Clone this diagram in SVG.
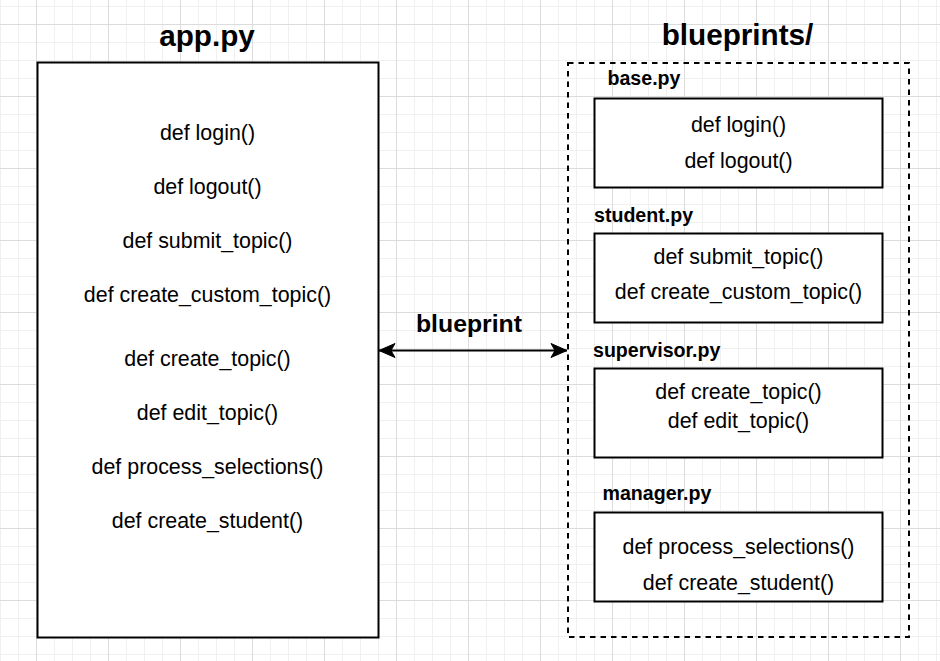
<svg xmlns="http://www.w3.org/2000/svg" width="940" height="661" viewBox="0 0 940 661">
  <defs>
    <pattern id="grid" patternUnits="userSpaceOnUse" x="36" y="24" width="72" height="72">
      <path d="M18.5 0V72M36.5 0V72M54.5 0V72M0 18.5H72M0 36.5H72M0 54.5H72" stroke="#f0f0f0" stroke-width="1" fill="none"/>
      <path d="M0.5 0V72M0 0.5H72" stroke="#dcdcdc" stroke-width="1" fill="none"/>
    </pattern>
    <marker id="arr" markerUnits="userSpaceOnUse" markerWidth="20" markerHeight="16" refX="17" refY="8" orient="auto-start-reverse" viewBox="0 0 20 16">
      <path d="M1 1 L17 8 L1 15 L5 8 Z" fill="#000" stroke="#000" stroke-width="1"/>
    </marker>
    <style>
      .title { font-family: "Liberation Sans", Arial, sans-serif; font-weight: bold; font-size: 29.7px; fill: #000; text-anchor: middle; }
      .fn { font-family: "Liberation Sans", Arial, sans-serif; font-size: 21.4px; fill: #000; text-anchor: middle; }
      .file { font-family: "Liberation Sans", Arial, sans-serif; font-weight: bold; font-size: 19.6px; fill: #000; }
      .lbl { font-family: "Liberation Sans", Arial, sans-serif; font-weight: bold; font-size: 24.8px; fill: #000; text-anchor: middle; }
      .box { fill: #fff; stroke: #000; stroke-width: 2; }
    </style>
  </defs>
  <rect x="0" y="0" width="940" height="661" fill="#fff"/>
  <rect x="0" y="0" width="940" height="661" fill="url(#grid)"/>

  <g id="app">
    <text class="title" x="207" y="46">app.py</text>
    <rect class="box" x="37.5" y="62.5" width="341" height="575"/>
    <text class="fn" x="207.5" y="139.5">def login()</text>
    <text class="fn" x="207.5" y="193.5">def logout()</text>
    <text class="fn" x="207.5" y="247.5">def submit_topic()</text>
    <text class="fn" x="207.5" y="302">def create_custom_topic()</text>
    <text class="fn" x="207.5" y="365.5">def create_topic()</text>
    <text class="fn" x="207.5" y="419.5">def edit_topic()</text>
    <text class="fn" x="207.5" y="473.5">def process_selections()</text>
    <text class="fn" x="207.5" y="527.5">def create_student()</text>
  </g>

  <g id="blueprints">
    <text class="title" x="737.5" y="45">blueprints/</text>
    <rect x="568" y="63" width="341" height="574" fill="none" stroke="#000" stroke-width="2" stroke-dasharray="5.5 5"/>
  </g>

  <g id="base">
    <text class="file" x="607.5" y="85">base.py</text>
    <rect class="box" x="594.5" y="98.5" width="288" height="89"/>
    <text class="fn" x="738.5" y="132">def login()</text>
    <text class="fn" x="738.5" y="168">def logout()</text>
  </g>

  <g id="student">
    <text class="file" x="594" y="221.5">student.py</text>
    <rect class="box" x="594.5" y="233.5" width="288" height="89"/>
    <text class="fn" x="738.5" y="263.5">def submit_topic()</text>
    <text class="fn" x="738.5" y="299">def create_custom_topic()</text>
  </g>

  <g id="supervisor">
    <text class="file" x="593" y="356.5">supervisor.py</text>
    <rect class="box" x="594.5" y="368.5" width="288" height="89"/>
    <text class="fn" x="738.5" y="398.5">def create_topic()</text>
    <text class="fn" x="738.5" y="427.5">def edit_topic()</text>
  </g>

  <g id="manager">
    <text class="file" x="602.5" y="499.5">manager.py</text>
    <rect class="box" x="594.5" y="512.5" width="288" height="89"/>
    <text class="fn" x="738.5" y="554">def process_selections()</text>
    <text class="fn" x="738.5" y="590">def create_student()</text>
  </g>

  <g id="connectors">
    <path d="M379 350.5 H567" fill="none" stroke="#000" stroke-width="2" marker-start="url(#arr)" marker-end="url(#arr)"/>
    <text class="lbl" x="469" y="331.5">blueprint</text>
  </g>
</svg>
